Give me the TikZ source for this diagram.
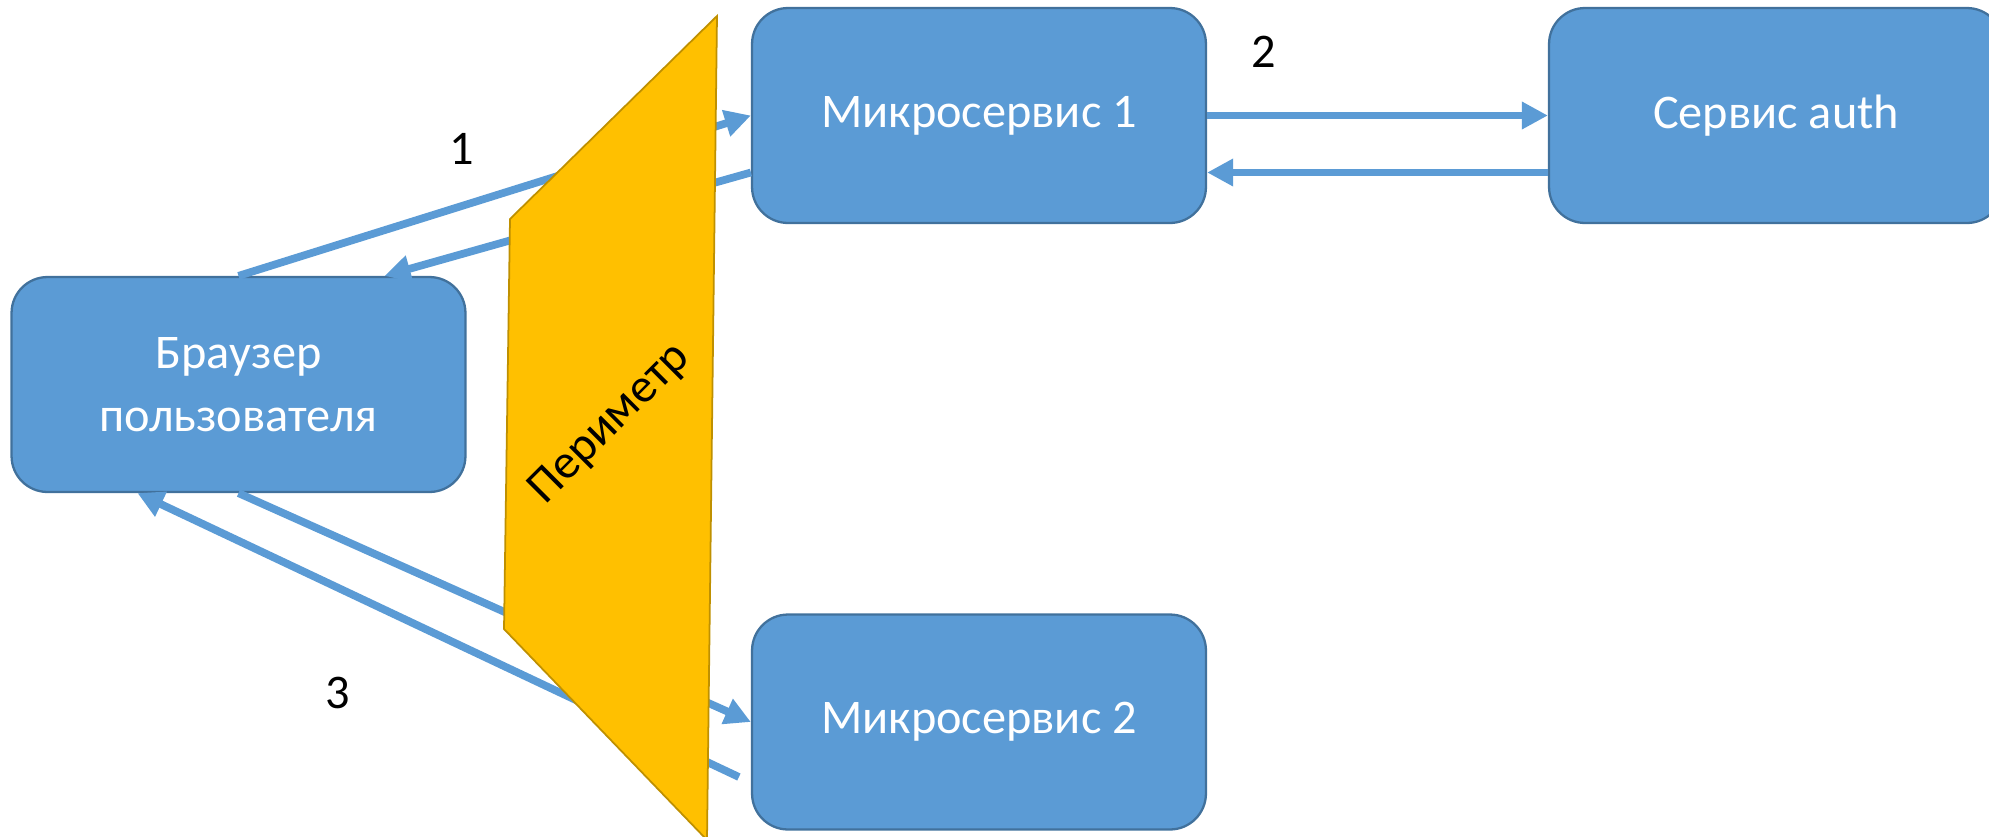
\documentclass[tikz,border=0pt]{standalone}
\usepackage{fontspec}
\setmainfont{Carlito}
\usetikzlibrary{arrows.meta,calc}

\definecolor{boxblue}{HTML}{5B9BD5}
\definecolor{boxedge}{HTML}{41719C}
\definecolor{gold}{HTML}{FFC000}
\definecolor{goldedge}{HTML}{BF9000}

\tikzset{
  svc/.style={draw=boxedge, line width=1.3pt, fill=boxblue, rounded corners=0.72cm,
    minimum width=9.08cm, minimum height=4.3cm, inner sep=0pt,
    text=white, align=center, font=\fontsize{27.5}{36}\selectfont},
  flow/.style={draw=boxblue, line width=4.4pt, -{Triangle[length=0.52cm,width=0.52cm]}},
  num/.style={inner sep=0pt, font=\fontsize{27.5}{36}\selectfont},
}

\begin{document}
\begin{tikzpicture}[x=0.02cm, y=-0.02cm]
    \useasboundingbox (0,0) rectangle (1989,836);

    % --- сервисы ---
    \node[svc] (brw)  at ( 238.5,384.5) {Браузер\\пользователя};
    \node[svc] (ms1)  at ( 979,115.5) {Микросервис 1};
    \node[svc] (auth) at (1776,115.5) {Сервис auth};
    \node[svc] (ms2)  at ( 979,722) {Микросервис 2};

    % точки обратных стрелок
    \coordinate (ms1back) at ($(ms1.west)+(0,57)$);
    \coordinate (brwtop)  at ($(brw.north)+(146,0)$);
    \coordinate (authback) at ($(auth.west)+(0,57)$);
    \coordinate (ms1in)   at ($(ms1.east)+(0,57)$);
    \coordinate (ms2back) at ($(ms2.west)+(-12,55)$);
    \coordinate (brwbot)  at ($(brw.south)+(-101,0)$);

    % --- запросы и ответы ---
    \draw[flow] (brw.north) -- (ms1.west);
    \draw[flow] (ms1back) -- (brwtop);
    \draw[flow] (ms1.east) -- (auth.west);
    \draw[flow] (authback) -- (ms1in);
    \draw[flow] (brw.south) -- (ms2.west);
    \draw[flow] (ms2back) -- (brwbot);

    % --- периметр (поверх стрелок) ---
    \filldraw[fill=gold, draw=goldedge, line width=1pt]
      (717,16) -- (510,219) -- (504,629) -- (707,840) -- cycle;
    \node[num, rotate=45] (per) at (610,424) {Периметр};

    % номера шагов
    \node[num] (n1) at ( 462,149) {1};
    \node[num] (n2) at (1264,52) {2};
    \node[num] (n3) at ( 338,693) {3};
\end{tikzpicture}
\end{document}
